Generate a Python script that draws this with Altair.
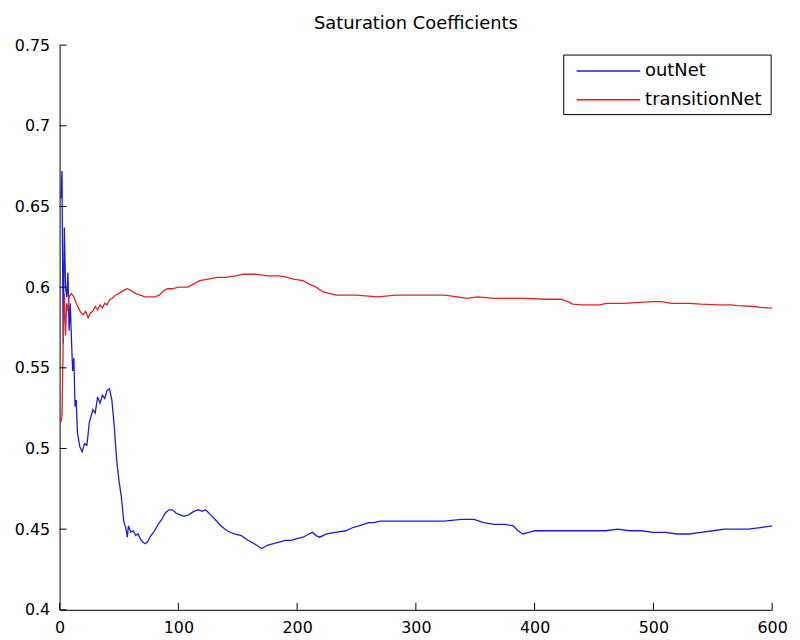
import altair as alt
import pandas as pd

# outNet series
out_x = [1,2,3,4,5,6,7,8,9,10,11,12,13,14,15,17,19,21,23,25,28,30,32,34,36,38,40,42,44,46,48,50,52,54,56,57,58,60,62,64,66,68,70,72,74,76,78,80,83,86,89,92,95,98,101,105,109,113,117,120,123,127,131,136,141,147,153,159,166,170,175,180,185,190,195,199,205,210,213,216,219,225,232,241,247,252,256,260,265,270,280,297,310,324,338,349,357,366,375,382,386,390,395,400,410,420,430,440,450,460,470,480,490,500,510,520,530,540,550,560,570,580,590,600]
out_y = [0.655,0.672,0.565,0.637,0.600,0.594,0.609,0.573,0.590,0.567,0.548,0.556,0.526,0.530,0.510,0.501,0.498,0.503,0.502,0.516,0.524,0.522,0.532,0.528,0.533,0.531,0.536,0.537,0.530,0.514,0.493,0.480,0.470,0.455,0.450,0.445,0.452,0.448,0.449,0.446,0.447,0.444,0.442,0.441,0.442,0.445,0.447,0.449,0.453,0.456,0.460,0.462,0.462,0.460,0.459,0.458,0.459,0.461,0.462,0.461,0.462,0.459,0.456,0.452,0.449,0.447,0.446,0.443,0.440,0.438,0.440,0.441,0.442,0.443,0.443,0.444,0.445,0.447,0.448,0.446,0.445,0.447,0.448,0.449,0.451,0.452,0.453,0.454,0.454,0.455,0.455,0.455,0.455,0.455,0.456,0.456,0.454,0.453,0.453,0.452,0.449,0.447,0.448,0.449,0.449,0.449,0.449,0.449,0.449,0.449,0.450,0.449,0.449,0.448,0.448,0.447,0.447,0.448,0.449,0.450,0.450,0.450,0.451,0.452]

# transitionNet series
tr_x = [1,2,3,4,5,6,7,8,10,12,14,16,18,20,22,24,26,28,30,32,34,36,38,40,42,44,47,50,54,57,60,64,68,72,76,80,84,88,91,95,100,108,113,118,125,133,140,148,155,165,175,185,192,197,205,210,216,222,228,233,250,268,283,300,310,324,335,343,352,366,380,391,410,422,428,432,440,455,460,475,488,500,507,515,530,540,555,565,571,585,590,600]
tr_y = [0.516,0.520,0.565,0.596,0.570,0.590,0.585,0.594,0.596,0.594,0.590,0.587,0.584,0.583,0.585,0.581,0.584,0.585,0.588,0.586,0.589,0.587,0.590,0.589,0.592,0.593,0.595,0.596,0.598,0.599,0.598,0.596,0.595,0.594,0.594,0.594,0.595,0.598,0.599,0.599,0.600,0.600,0.602,0.604,0.605,0.606,0.606,0.607,0.608,0.608,0.607,0.607,0.606,0.605,0.604,0.602,0.600,0.597,0.596,0.595,0.595,0.594,0.595,0.595,0.595,0.595,0.594,0.593,0.594,0.593,0.593,0.593,0.5925,0.5925,0.591,0.5895,0.589,0.589,0.590,0.590,0.5905,0.591,0.591,0.590,0.590,0.5895,0.589,0.589,0.5885,0.588,0.5875,0.587]

series_names = ["outNet", "transitionNet"]
series_colors = ["#1c1cd8", "#e02424"]
x_ticks = [0, 100, 200, 300, 400, 500, 600]
y_ticks = [0.4, 0.45, 0.5, 0.55, 0.6, 0.65, 0.7, 0.75]

W, H = 718, 569
FONT = "DejaVu Sans"

df = pd.concat([
    pd.DataFrame({"x": out_x, "y": out_y, "series": series_names[0]}),
    pd.DataFrame({"x": tr_x, "y": tr_y, "series": series_names[1]}),
])

xs = alt.Scale(domain=[0, 600], nice=False, zero=False)
ys = alt.Scale(domain=[0.4, 0.75], nice=False, zero=False)

lines = alt.Chart(df).mark_line(strokeWidth=1.3, interpolate="linear").encode(
    x=alt.X("x:Q", scale=xs, axis=alt.Axis(values=x_ticks, title=None, format="d", labelFlush=False)),
    y=alt.Y("y:Q", scale=ys, axis=alt.Axis(values=y_ticks, title=None, format="~g", labelFlush=False)),
    color=alt.Color("series:N", scale=alt.Scale(domain=series_names, range=series_colors), legend=None),
    detail="series:N",
)

ytick_rules = alt.Chart(pd.DataFrame({"v": y_ticks})).mark_rule(color="black", strokeWidth=1).encode(
    y=alt.Y("v:Q", scale=ys), x=alt.value(0), x2=alt.value(7)
)
xtick_rules = alt.Chart(pd.DataFrame({"v": x_ticks})).mark_rule(color="black", strokeWidth=1).encode(
    x=alt.X("v:Q", scale=xs), y=alt.value(H), y2=alt.value(H - 7)
)

leg_df = pd.DataFrame({"name": ["legend"]})
leg_box = alt.Chart(leg_df).mark_rect(fill="white", stroke="black", strokeWidth=1).encode(
    x=alt.value(508), x2=alt.value(717), y=alt.value(10), y2=alt.value(70)
)
legend_layers = [leg_box]
for i, (nm, col) in enumerate(zip(series_names, series_colors)):
    yy = 26 + 29 * i
    d = pd.DataFrame({"name": [nm]})
    legend_layers.append(
        alt.Chart(d).mark_rule(color=col, strokeWidth=1.5).encode(
            x=alt.value(521), x2=alt.value(585), y=alt.value(yy)
        )
    )
    legend_layers.append(
        alt.Chart(d).mark_text(align="left", baseline="middle", font=FONT, fontSize=18, color="black").encode(
            x=alt.value(590), y=alt.value(yy), text="name:N"
        )
    )

chart = alt.layer(lines, ytick_rules, xtick_rules, *legend_layers).properties(
    width=W,
    height=H,
    autosize=alt.AutoSizeParams(type="none"),
    padding={"left": 52, "top": 35, "right": 20, "bottom": 28},
    title=alt.TitleParams("Saturation Coefficients", fontSize=18, font=FONT, fontWeight="normal",
                          color="black", anchor="middle", offset=4),
    background="white",
).configure_view(stroke=None).configure_axis(
    domainColor="black", domainWidth=1, grid=False, ticks=False, tickSize=0,
    labelColor="black", labelFont=FONT, labelFontSize=16, labelPadding=10,
)

chart.save("out.html", embed_options={"renderer": "svg", "actions": False})
